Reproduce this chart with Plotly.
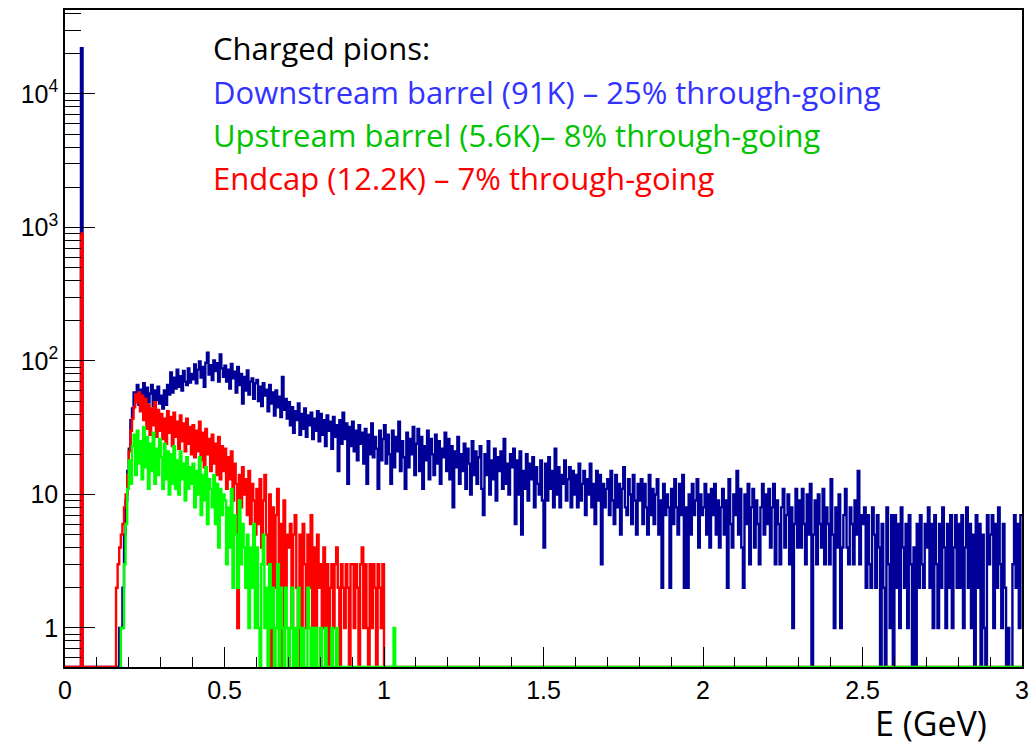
import numpy as np
import plotly.graph_objects as go

# ---------------- data ----------------
E_MIN, E_MAX, BIN_W = 0.0, 3.0, 0.005
Y_MIN, Y_MAX = 0.51, 42500

x_tick_vals = [0, 0.5, 1, 1.5, 2, 2.5, 3]
x_tick_text = ["0", "0.5", "1", "1.5", "2", "2.5", "3"]
y_tick_vals = [1, 10, 100, 1000, 10000]
y_tick_text = ["1", "10", "10<sup>2</sup>", "10<sup>3</sup>", "10<sup>4</sup>"]

spike_E = 0.050
blue_spike = 22000
red_spike = 900

# Downstream barrel, bins of 0.005 GeV starting at 0.170 GeV
blue_start = 0.170
blue_counts = [
    1, 1, 2, 5, 9, 15,
    22, 36, 44, 58, 50, 66, 47, 61, 52, 68, 45, 63, 49, 57, 66, 46, 60, 51, 64, 48,
    55, 44, 60, 47, 66, 56, 82, 58, 75, 62, 86, 64, 77, 60, 84, 70, 66, 88, 69, 80,
    73, 94, 68, 86, 99, 75, 90, 64, 97, 115, 79, 93, 72, 101, 84, 96, 70, 112, 88, 76,
    92, 70, 86, 62, 95, 74, 83, 58, 90, 66, 80, 48, 76, 60, 85, 56, 70, 74, 52, 68,
    72, 50, 64, 46, 68, 55, 61, 42, 66, 48, 58, 39, 60, 45, 54, 38, 76, 43, 52, 37,
    49, 33, 45, 29, 42, 36, 48, 28, 40, 31, 44, 27, 39, 33, 41, 26, 37, 30, 42, 25,
    40, 28, 36, 23, 39, 30, 35, 22, 38, 27, 33, 15, 36, 24, 41, 26, 34, 12, 32, 23,
    35, 21, 30, 18, 33, 24, 29, 17, 31, 12, 28, 20, 34, 19, 27, 22, 11, 30, 18, 26,
    33, 17, 28, 20, 12, 30, 16, 27, 21, 35, 15, 25, 19, 11, 29, 16, 26, 20, 32, 14,
    24, 31, 15, 27, 11, 23, 18, 30, 13, 26, 20, 14, 28, 17, 25, 12, 22, 19, 29, 15,
    26, 13, 23, 8, 21, 16, 27, 12, 20, 15, 24, 11, 22, 17, 10, 25, 14, 21, 12, 19,
    23, 11, 7, 20, 14, 25, 10, 18, 13, 22, 9, 19, 15, 21, 11, 26, 12, 17, 10, 20,
    16, 22, 6, 18, 10, 21, 5, 15, 11, 20, 9, 17, 13, 19, 8, 16, 12, 10, 18, 9,
    4, 17, 9, 19, 11, 15, 8, 22, 10, 16, 8, 14, 12, 18, 9, 13, 16, 8, 15, 10,
    14, 8, 17, 9, 12, 15, 7, 13, 10, 17, 8, 12, 6, 15, 9, 14, 3, 12, 8, 11,
    13, 7, 15, 9, 6, 14, 8, 12, 5, 11, 16, 8, 7, 13, 10, 6, 14, 9, 5, 12,
    9, 13, 6, 12, 8, 5, 14, 7, 11, 6, 10, 13, 5, 9, 2, 12, 7, 10, 8, 2,
    11, 6, 13, 8, 5, 12, 7, 14, 2, 8, 2, 10, 5, 12, 7, 9, 13, 4, 10, 7,
    8, 12, 5, 10, 4, 11, 7, 12, 5, 9, 4, 8, 11, 5, 9, 2, 13, 6, 4, 10,
    7, 15, 5, 11, 4, 2, 10, 6, 12, 3, 8, 11, 4, 9, 6, 3, 8, 12, 5, 10,
    6, 11, 4, 8, 12, 3, 9, 6, 3, 8, 11, 4, 7, 10, 3, 8, 1, 6, 11, 4,
    9, 4, 11, 6, 3, 10, 5, 12, 0, 5, 9, 3, 10, 6, 4, 11, 3, 8, 6, 3,
    13, 5, 1, 8, 4, 10, 1, 4, 7, 11, 4, 3, 8, 6, 3, 9, 5, 15, 3, 7,
    6, 8, 2, 7, 3, 2, 8, 5, 2, 7, 4, 0, 6, 2, 0, 8, 3, 1, 7, 0,
    7, 2, 6, 1, 8, 4, 2, 6, 1, 7, 3, 0, 4, 0, 6, 2, 7, 3, 2, 6,
    4, 8, 2, 6, 1, 7, 3, 1, 6, 2, 8, 4, 1, 6, 2, 7, 1, 4, 7, 2,
    6, 2, 7, 1, 4, 8, 2, 6, 1, 5, 0, 7, 2, 6, 0, 5, 1, 0, 7, 3,
    5, 7, 1, 6, 2, 8, 3, 1, 6, 2, 0, 1, 0, 0, 3, 7, 2, 6, 1, 7,
]

# Endcap, starting at 0.160 GeV
red_start = 0.160
red_counts = [
    2, 3, 4, 5, 6, 8, 10, 14,
    21, 30, 37, 45, 56, 49, 58, 42, 55, 36, 52, 31, 47, 28, 44, 33, 49, 27, 43, 30,
    40, 26, 37, 24, 42, 29, 38, 23, 41, 27, 35, 22, 39, 25, 34, 21, 37, 24, 32, 20,
    33, 19, 30, 21, 35, 18, 29, 16, 31, 20, 26, 15, 28, 17, 24, 14, 27, 13, 23, 15,
    22, 11, 19, 13, 21, 9, 17, 12, 1, 14, 8, 16, 10, 13, 7, 15, 6, 12, 9, 5,
    11, 6, 13, 4, 9, 14, 5, 3, 10, 0, 8, 2, 7, 11, 1, 6, 0, 9, 2, 5,
    4, 6, 1, 5, 7, 2, 0, 5, 1, 6, 3, 1, 5, 2, 7, 1, 4, 0, 5, 2,
    3, 1, 4, 1, 3, 0, 2, 3, 1, 3, 4, 2, 0, 3, 2, 1, 3, 2, 0, 3,
    3, 1, 3, 2, 0, 3, 4, 1, 3, 1, 0, 3, 1, 3, 2, 0, 3, 2, 1, 3,
]

# Upstream barrel, starting at 0.175 GeV
green_start = 0.175
green_counts = [
    1, 1, 3, 6, 11,
    18, 12, 23, 28, 14, 30, 17, 25, 13, 32, 16, 27, 11, 24, 15, 29, 12, 22, 14, 26,
    19, 11, 24, 13, 21, 10, 20, 12, 23, 11, 18, 10, 21, 13, 17, 9, 19, 11, 16, 12,
    17, 8, 15, 10, 19, 7, 14, 9, 16, 6, 13, 11, 8, 14, 6, 12, 4, 11, 7, 10,
    9, 3, 8, 4, 11, 2, 7, 5, 2, 9, 3, 6, 4, 2, 5, 1, 4, 2, 6, 1,
    4, 1, 0, 3, 5, 1, 2, 0, 3, 1, 2, 0, 1, 3, 0, 2, 1, 0, 2, 1,
    0, 1, 2, 0, 1, 0, 2, 1, 0, 1, 0, 0, 2, 1, 0, 1, 0, 1, 0, 0,
    1, 0, 0, 1, 0, 0, 0, 1, 0, 0, 1, 0, 0, 0, 0, 0, 0, 0, 0, 0,
]
green_late_E = [1.030]
green_late_counts = [1]

title_text = "Charged pions:"
series_labels = [
    "Downstream barrel (91K) \u2013 25% through-going",
    "Upstream barrel (5.6K)\u2013 8% through-going",
    "Endcap (12.2K) \u2013 7% through-going",
]
x_title = "E (GeV)"

NAVY, RED, GREEN = "#000099", "#FF0000", "#00FF00"
TXT_BLUE, TXT_GREEN, TXT_RED = "#3333FF", "#00C400", "#FF0000"

# ---------------- build histograms ----------------
n_bins = int(round((E_MAX - E_MIN) / BIN_W))
edges = E_MIN + BIN_W * np.arange(n_bins + 1)


def bin_index(e):
    return int(round((e - E_MIN) / BIN_W))


def make_hist(start, counts, extra=()):
    h = np.zeros(n_bins)
    i0 = bin_index(start)
    h[i0:i0 + len(counts)] = counts
    for e, c in extra:
        h[bin_index(e)] = c
    return h


blue_h = make_hist(blue_start, blue_counts, [(spike_E, blue_spike)])
red_h = make_hist(red_start, red_counts, [(spike_E, red_spike)])
green_h = make_hist(green_start, green_counts, list(zip(green_late_E, green_late_counts)))


def step_xy(h, first_bin=0):
    vals = np.where(h > 0, h, Y_MIN)[first_bin:]
    x = edges[first_bin:]
    y = np.append(vals, vals[-1])
    return x, y


fig = go.Figure()
for h, col, fb in [(blue_h, NAVY, 0), (red_h, RED, 0),
                   (green_h, GREEN, bin_index(green_start) - 1)]:
    x, y = step_xy(h, fb)
    fig.add_trace(go.Scatter(x=x, y=y, mode="lines", line_shape="hv",
                             line=dict(color=col, width=2.4),
                             hoverinfo="skip", showlegend=False))

tick_font = dict(family="Liberation Sans, Arial, sans-serif", size=25, color="black")

y_minor = []
for dec in [0.1, 1, 10, 100, 1000, 10000]:
    for m in range(2, 10):
        v = m * dec
        if Y_MIN < v < Y_MAX:
            y_minor.append(v)

fig.update_layout(
    width=1036, height=748,
    margin=dict(l=65, r=7, t=10, b=81),
    paper_bgcolor="white", plot_bgcolor="white",
    xaxis=dict(
        range=[E_MIN, E_MAX], showgrid=False, zeroline=False,
        showline=True, linecolor="black", linewidth=1.5, mirror=True,
        ticks="inside", ticklen=20, tickwidth=1.3, tickcolor="black",
        tickvals=x_tick_vals, ticktext=x_tick_text, tickfont=tick_font,
        ticklabelstandoff=0,
        minor=dict(ticks="inside", ticklen=10, tickwidth=1.3, tickcolor="black",
                   dtick=0.1, tick0=0, showgrid=False),
    ),
    yaxis=dict(
        type="log", range=[np.log10(Y_MIN), np.log10(Y_MAX)],
        showgrid=False, zeroline=False,
        showline=True, linecolor="black", linewidth=1.5, mirror=True,
        ticks="inside", ticklen=30, tickwidth=1.3, tickcolor="black",
        tickvals=y_tick_vals, ticktext=y_tick_text, tickfont=tick_font,
        ticklabelstandoff=0,
        minor=dict(ticks="inside", ticklen=16, tickwidth=1.3, tickcolor="black",
                   tickmode="array", tickvals=y_minor, showgrid=False),
    ),
)

ann_font = "Open Sans, sans-serif"
ann_x = (212 - 65) / 964
lines = [(title_text, "black"), (series_labels[0], TXT_BLUE),
         (series_labels[1], TXT_GREEN), (series_labels[2], TXT_RED)]
ys_px = [48, 92, 135, 178]
for (txt, col), ypx in zip(lines, ys_px):
    fig.add_annotation(text=txt, xref="paper", yref="paper",
                       x=ann_x, y=(667 - ypx) / 657, xanchor="left", yanchor="middle",
                       showarrow=False, font=dict(family=ann_font, size=31, color=col))

fig.add_annotation(text=x_title, xref="paper", yref="paper",
                   x=(996 - 65) / 964, y=(667 - 748) / 657, xanchor="right", yanchor="bottom",
                   showarrow=False, font=dict(family=ann_font, size=34, color="black"))

fig.write_html("out.html")
